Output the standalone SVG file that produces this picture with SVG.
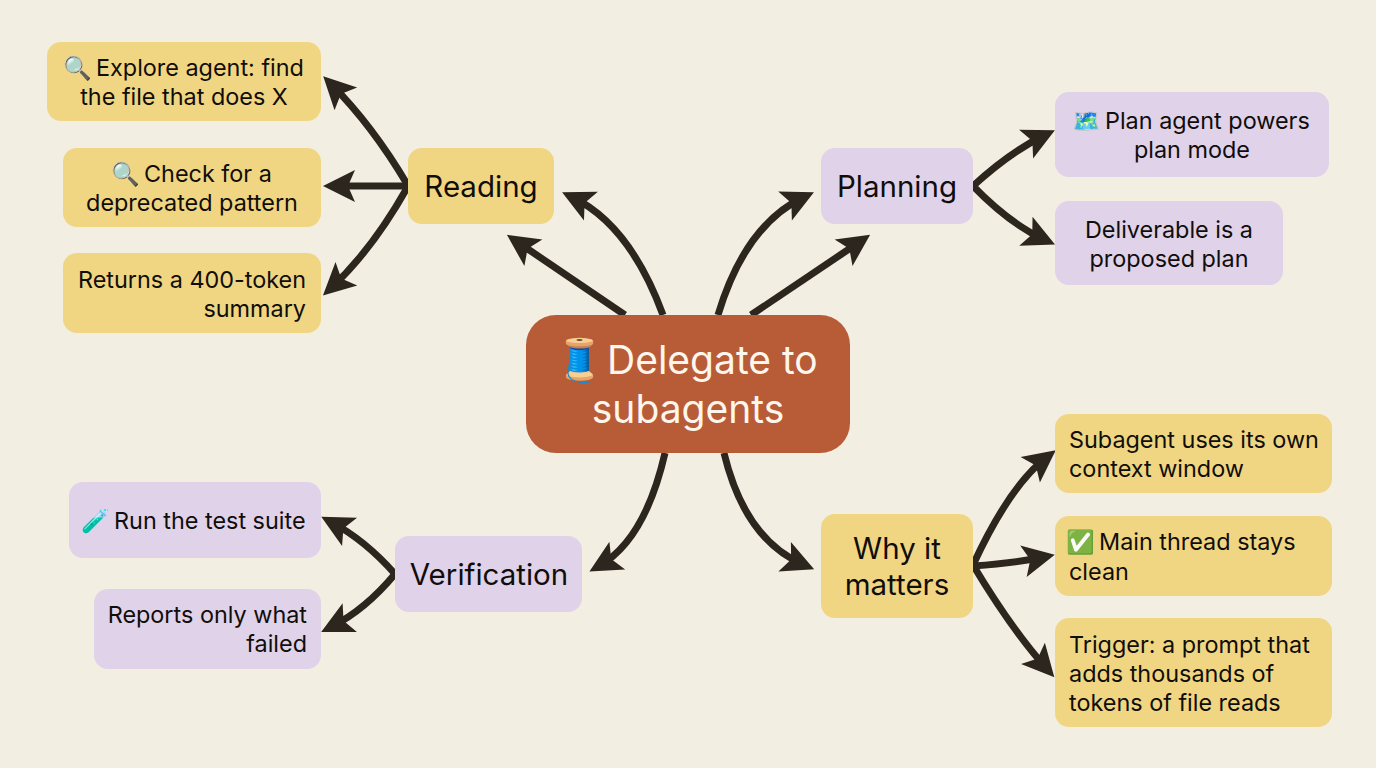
<svg xmlns="http://www.w3.org/2000/svg" width="1376" height="768" viewBox="0 0 1376 768">
<style>
text{font-family:Inter,"Noto Sans","Noto Color Emoji",sans-serif;fill:#100e0b}
.s{font-size:23.4px}
.m{font-size:29.5px}
.c{font-size:39px;fill:#fdf6ec}
.em{font-size:23px}
.ec{font-size:41px}
.y{fill:#f0d682}
.p{fill:#e0d2e9}
.e{text-anchor:end}
.a{text-anchor:middle}
#connectors path{fill:none;stroke:#2d261e;stroke-width:7;marker-end:url(#h)}
</style>
<defs>
<marker id="h" markerUnits="userSpaceOnUse" markerWidth="34" markerHeight="34" viewBox="0 0 34 34" refX="22" refY="17" orient="auto">
<path d="M33,17 L1,1 L8,17 L1,33 Z" fill="#2d261e"/>
</marker>
</defs>
<rect width="1376" height="768" fill="#f2eee1"/>
<g id="connectors">
<path d="M407,184 Q372,125 331,84"/>
<path d="M408,186 L334,186"/>
<path d="M407,188 Q372,250 331,288"/>
<path d="M625,315 L516,241"/>
<path d="M663,315 Q630,225 572,197"/>
<path d="M718,315 Q745,225 804,197"/>
<path d="M751,315 L861,241"/>
<path d="M973,186 Q1010,152 1045,135"/>
<path d="M973,186 Q1010,224 1045,240"/>
<path d="M665,453 Q645,540 599,566"/>
<path d="M724,453 Q745,540 804,565"/>
<path d="M973,565 Q1010,485 1047,457"/>
<path d="M973,566 Q1015,563 1044,557"/>
<path d="M973,565 Q1012,630 1047,669"/>
<path d="M395,574 Q365,540 331,522"/>
<path d="M395,574 Q365,610 331,627"/>
</g>
<g id="center"><rect x="526" y="315" width="324" height="138" rx="30" fill="#b85c38"/>
<text class="c" y="374"><tspan class="ec" x="554">🧵</tspan><tspan x="607">Delegate to</tspan></text><text class="c a" x="688" y="423">subagents</text></g>
<g id="reading"><rect class="y" x="408" y="148" width="146" height="76" rx="14"/><text class="m a" x="481" y="197">Reading</text></g>
<g id="planning"><rect class="p" x="821" y="148" width="152" height="76" rx="14"/><text class="m a" x="897" y="197">Planning</text></g>
<g id="verification"><rect class="p" x="395" y="536" width="187" height="76" rx="14"/><text class="m a" x="489" y="585">Verification</text></g>
<g id="why"><rect class="y" x="821" y="514" width="152" height="104" rx="14"/><text class="m a" x="897" y="559">Why it</text><text class="m a" x="897" y="595">matters</text></g>
<g id="explore"><rect class="y" x="47" y="42" width="274" height="79" rx="14"/><text class="s" y="76"><tspan class="em" x="63">🔍</tspan><tspan x="96">Explore agent: find</tspan></text><text class="s a" x="184" y="105">the file that does X</text></g>
<g id="check"><rect class="y" x="63" y="148" width="258" height="79" rx="14"/><text class="s" y="182"><tspan class="em" x="111">🔍</tspan><tspan x="144">Check for a</tspan></text><text class="s a" x="192" y="211">deprecated pattern</text></g>
<g id="returns"><rect class="y" x="63" y="253" width="258" height="80" rx="14"/><text class="s" x="78" y="288">Returns a 400-token</text><text class="s e" x="306" y="317">summary</text></g>
<g id="plan-agent"><rect class="p" x="1055" y="92" width="274" height="85" rx="14"/><text class="s" y="129"><tspan class="em" x="1072">🗺️</tspan><tspan x="1105">Plan agent powers</tspan></text><text class="s a" x="1192" y="158">plan mode</text></g>
<g id="deliverable"><rect class="p" x="1055" y="201" width="228" height="84" rx="14"/><text class="s a" x="1169" y="238">Deliverable is a</text><text class="s a" x="1169" y="267">proposed plan</text></g>
<g id="run"><rect class="p" x="69" y="482" width="252" height="76" rx="14"/><text class="s" y="529"><tspan class="em" x="81">🧪</tspan><tspan x="114">Run the test suite</tspan></text></g>
<g id="reports"><rect class="p" x="94" y="589" width="227" height="80" rx="14"/><text class="s e" x="307" y="623">Reports only what</text><text class="s e" x="307" y="652">failed</text></g>
<g id="subagent"><rect class="y" x="1055" y="414" width="277" height="79" rx="14"/><text class="s" x="1069" y="448">Subagent uses its own</text><text class="s" x="1069" y="477">context window</text></g>
<g id="main"><rect class="y" x="1055" y="516" width="277" height="80" rx="14"/><text class="s" y="550"><tspan class="em" x="1066">✅</tspan><tspan x="1099">Main thread stays</tspan></text><text class="s" x="1069" y="580">clean</text></g>
<g id="trigger"><rect class="y" x="1055" y="618" width="277" height="109" rx="14"/><text class="s" x="1069" y="653">Trigger: a prompt that</text><text class="s" x="1069" y="682">adds thousands of</text><text class="s" x="1069" y="711">tokens of file reads</text></g>
</svg>
